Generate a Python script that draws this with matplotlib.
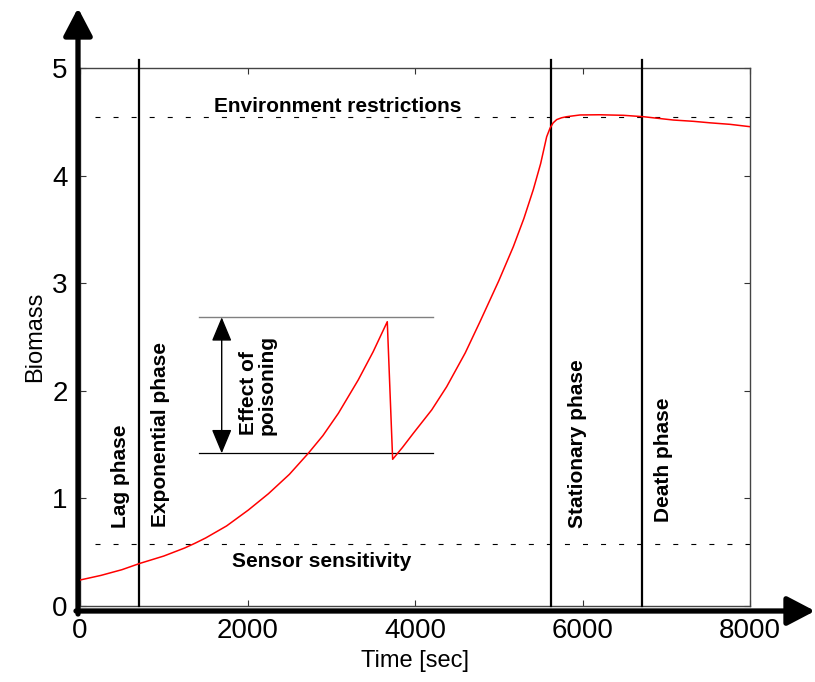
import numpy as np
import matplotlib
matplotlib.use('Agg')
import matplotlib.pyplot as plt

# biomass curve (time in sec)
t_curve = [0, 250, 500, 716, 1000, 1250, 1373, 1500, 1750, 2010,
           2250, 2500, 2726, 2900, 3085, 3322, 3500, 3669,
           3733, 3850, 3980, 4200, 4378, 4600, 4776, 5000, 5174, 5300, 5413,
           5500, 5572, 5612, 5650, 5692, 5750, 5811, 5970, 6200, 6487,
           6726, 7085, 7324, 7523, 7761, 8000]
b_curve = [0.237, 0.28, 0.333, 0.392, 0.46, 0.535, 0.579, 0.628, 0.74, 0.888,
           1.04, 1.22, 1.416, 1.58, 1.788, 2.098, 2.36, 2.640,
           1.360, 1.47, 1.602, 1.82, 2.035, 2.35, 2.64, 3.02, 3.338, 3.60, 3.87,
           4.11, 4.36, 4.44, 4.49, 4.52, 4.537, 4.547, 4.563, 4.565, 4.560,
           4.547, 4.516, 4.504, 4.490, 4.476, 4.454]

phase_times = [710, 5625, 6710]
env_level = 4.545
sensor_level = 0.572
poison_top = 2.681
poison_bottom = 1.416

plt.rcParams['font.family'] = ['Liberation Sans', 'DejaVu Sans']
plt.rcParams['lines.scale_dashes'] = False

fig = plt.figure(figsize=(8.15, 6.82), dpi=100)
ax = fig.add_axes([0.09816, 0.11217, 0.82209, 0.78812])

# phase boundaries
for t in phase_times:
    ax.plot([t, t], [0, 5.07], color='black', lw=1.6, clip_on=False, zorder=3)

# environment / sensor limits
for lev in [env_level, sensor_level]:
    ax.plot([180, 8000], [lev, lev], color='black', lw=0.8, dashes=(3.6, 9.4))

# poisoning marker
ax.plot([1425, 4210], [poison_top, poison_top], color='#808080', lw=1.0)
ax.plot([1425, 4210], [poison_bottom, poison_bottom], color='black', lw=0.9)
ax.annotate('', xy=(1692, poison_top), xytext=(1692, poison_bottom),
            arrowprops=dict(arrowstyle='<|-|>,head_length=0.6,head_width=0.25',
                            color='black', lw=1.0, mutation_scale=25,
                            shrinkA=0, shrinkB=0))

ax.plot(t_curve, b_curve, color='red', lw=1.1, zorder=4)

bold = dict(fontsize=15, fontweight='bold')
ax.text(3081, 4.645, 'Environment restrictions', ha='center', va='center', **bold)
ax.text(2886, 0.405, 'Sensor sensitivity', ha='center', va='center', **bold)
ax.text(478, 0.72, 'Lag phase', rotation=90, ha='center', va='bottom', **bold)
ax.text(967, 0.73, 'Exponential phase', rotation=90, ha='center', va='bottom', **bold)
ax.text(5946, 0.72, 'Stationary phase', rotation=90, ha='center', va='bottom', **bold)
ax.text(6973, 0.78, 'Death phase', rotation=90, ha='center', va='bottom', **bold)
ax.text(2126, 1.585, 'Effect of\npoisoning', rotation=90, ha='center', va='bottom',
        multialignment='left', linespacing=1.0, **bold)

ax.set_xlim(0, 8000)
ax.set_ylim(0, 5)
ax.set_xticks([0, 2000, 4000, 6000, 8000])
ax.set_yticks([0, 1, 2, 3, 4, 5])
ax.tick_params(direction='in', length=4, width=0.8, top=True, right=True,
               labelsize=20, pad=9, color='#333333')
for s in ax.spines.values():
    s.set_color('#444444')
    s.set_linewidth(1.0)
ax.set_xlabel('Time [sec]', fontsize=17, labelpad=4)
ax.set_ylabel('Biomass', fontsize=17, labelpad=4)

# thick axis arrows (figure pixels)
arr = dict(arrowstyle='-|>,head_length=0.42,head_width=0.22', color='black',
           lw=3.8, mutation_scale=40, shrinkA=0, shrinkB=0)
ax.annotate('', xy=(78, 674), xytext=(78, 68), xycoords='figure pixels',
            textcoords='figure pixels', arrowprops=arr, annotation_clip=False)
ax.annotate('', xy=(815, 71), xytext=(76, 71), xycoords='figure pixels',
            textcoords='figure pixels', arrowprops=arr, annotation_clip=False)

fig.savefig('out.png', dpi=100)
